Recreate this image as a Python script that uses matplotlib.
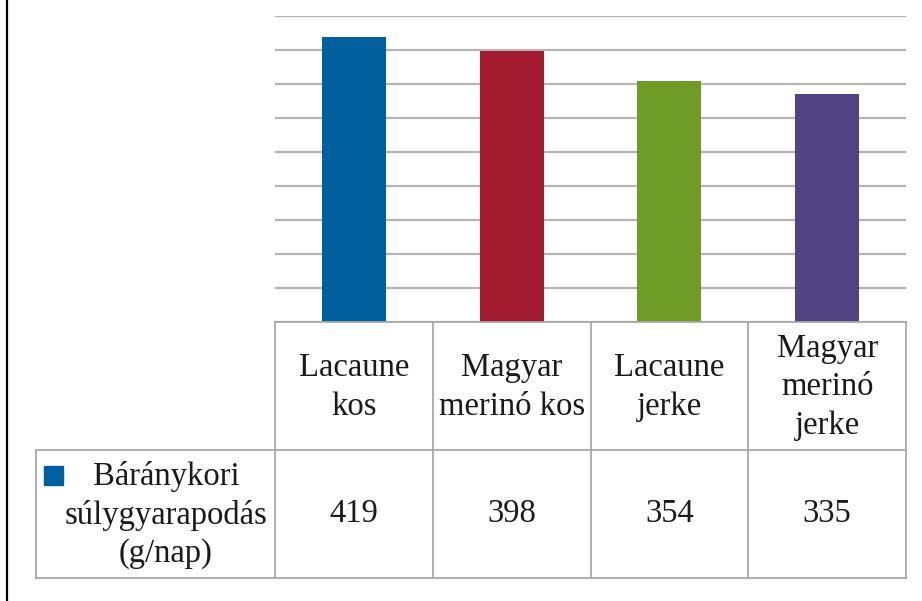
import matplotlib
matplotlib.use("Agg")
import matplotlib.pyplot as plt
from matplotlib.patches import Rectangle
from matplotlib.lines import Line2D

categories = ["Lacaune\nkos", "Magyar\nmerinó kos", "Lacaune\njerke", "Magyar\nmerinó\njerke"]
values = [419, 398, 354, 335]
series_label = "Báránykori\nsúlygyarapodás\n(g/nap)"
colors = ["#00609e", "#a31b2f", "#6f9c27", "#514384"]

W, H = 922, 601
fig = plt.figure(figsize=(W / 100, H / 100), dpi=100)
plt.rcParams['font.family'] = ['Liberation Serif', 'DejaVu Serif']

left, right, top, bottom = 275, 906, 15.5, 322.3
ax = fig.add_axes([left / W, 1 - bottom / H, (right - left) / W, (bottom - top) / H])
x = list(range(len(values)))
ax.bar(x, values, width=0.405, color=colors, zorder=3)
ax.set_xlim(-0.5, len(values) - 0.5)
ax.set_ylim(0, 450)
ax.set_yticks(range(0, 451, 50))
ax.yaxis.grid(True, color="#b4b4b4", linewidth=1.6, zorder=0)
ax.tick_params(left=False, bottom=False, labelleft=False, labelbottom=False)
for s in ax.spines.values():
    s.set_visible(False)

# overlay axes in pixel coordinates for the data table
ov = fig.add_axes([0, 0, 1, 1], zorder=5)
ov.set_xlim(0, W)
ov.set_ylim(H, 0)
ov.axis("off")
ov.patch.set_alpha(0)

def to_px(xd):
    disp = ax.transData.transform((xd, 0))
    return fig.transFigure.inverted().transform(disp)[0] * W

edges = [to_px(i - 0.5) for i in range(len(values) + 1)]
row0, row1, row2 = 322.3, 450, 577.7
lab_left = 35.7
lc = "#a8a8a8"
lw = 1.3
ov.plot([edges[0], edges[-1]], [row0, row0], color=lc, lw=lw)
ov.plot([lab_left, edges[-1]], [row1, row1], color=lc, lw=lw)
ov.plot([lab_left, edges[-1]], [row2, row2], color=lc, lw=lw)
for e in edges:
    ov.plot([e, e], [row0, row2], color=lc, lw=lw)
ov.plot([lab_left, lab_left], [row1, row2], color=lc, lw=lw)

fs = 23.5
ls = 1.33
for i, c in enumerate(categories):
    cx = (edges[i] + edges[i + 1]) / 2
    ov.text(cx, (row0 + row1) / 2 + 1, c, ha="center", va="center", fontsize=fs,
            linespacing=ls, color="#1a1a1a")
    ov.text(cx, (row1 + row2) / 2, str(values[i]), ha="center", va="center",
            fontsize=fs, color="#1a1a1a")

ov.add_patch(Rectangle((44, 466), 18.5, 18.5, color=colors[0]))
ov.text(166, (row1 + row2) / 2 + 1, series_label, ha="center", va="center",
        fontsize=fs, linespacing=ls, color="#1a1a1a")

ov.add_line(Line2D([7.3, 7.3], [0, H], color="black", lw=1.6))

fig.savefig("out.png", dpi=100, facecolor="white")
